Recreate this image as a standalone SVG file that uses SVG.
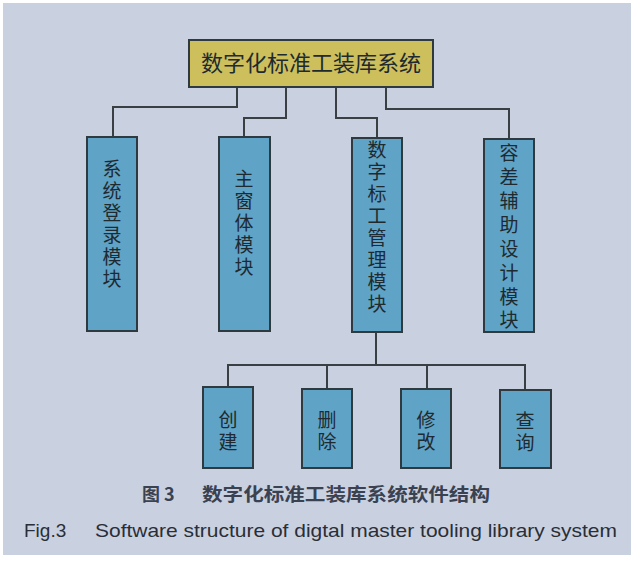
<svg xmlns="http://www.w3.org/2000/svg" width="634" height="561" viewBox="0 0 634 561">
<style>
.bg{fill:#c9d1e1}
.box{fill:#5fa3c6;stroke:#2f3a40;stroke-width:2}
.top{fill:#cdbf5c;stroke:#2f3a40;stroke-width:2}
.lbl{font-family:"Noto Sans CJK SC",sans-serif;font-size:19px;fill:#1e2a30;text-anchor:middle}
.tl{font-family:"Noto Sans CJK SC",sans-serif;font-size:22px;fill:#1e2a30;text-anchor:middle}
.conn{fill:none;stroke:#3a3f44;stroke-width:2}
.cap1{font-family:"Noto Sans CJK SC",sans-serif;font-size:18px;font-weight:bold;fill:#3a4252}
.cap2{font-family:"Liberation Sans",Arial,sans-serif;font-size:19px;fill:#2a2e36}
</style>
<rect x="0" y="0" width="634" height="561" fill="#ffffff"/>
<rect class="bg" x="3" y="3" width="628" height="552"/>
<g id="connectors">
<path class="conn" d="M237 87 V107 H113 V137"/>
<path class="conn" d="M286 87 V118 H244 V137"/>
<path class="conn" d="M336 87 V118 H377 V138"/>
<path class="conn" d="M386 87 V109 H509 V139"/>
<path class="conn" d="M376 332 V365"/>
<path class="conn" d="M228 387 V365 H525 V390"/>
<path class="conn" d="M327 365 V389"/>
<path class="conn" d="M427 365 V389"/>
</g>
<g id="root">
<rect class="top" x="189" y="40" width="244" height="47"/>
<text class="tl" x="311" y="71">数字化标准工装库系统</text>
</g>
<g id="n1">
<rect class="box" x="87" y="137" width="50" height="194"/>
<text class="lbl"><tspan x="112" y="176">系</tspan><tspan x="112" y="198">统</tspan><tspan x="112" y="220">登</tspan><tspan x="112" y="242">录</tspan><tspan x="112" y="264">模</tspan><tspan x="112" y="286">块</tspan></text>
</g>
<g id="n2">
<rect class="box" x="219" y="137" width="51" height="194"/>
<text class="lbl"><tspan x="244" y="186">主</tspan><tspan x="244" y="208">窗</tspan><tspan x="244" y="230">体</tspan><tspan x="244" y="252">模</tspan><tspan x="244" y="274">块</tspan></text>
</g>
<g id="n3">
<rect class="box" x="352" y="138" width="50" height="194"/>
<text class="lbl"><tspan x="377" y="157">数</tspan><tspan x="377" y="179">字</tspan><tspan x="377" y="201">标</tspan><tspan x="377" y="223">工</tspan><tspan x="377" y="245">管</tspan><tspan x="377" y="267">理</tspan><tspan x="377" y="289">模</tspan><tspan x="377" y="311">块</tspan></text>
</g>
<g id="n4">
<rect class="box" x="484" y="139" width="50" height="193"/>
<text class="lbl"><tspan x="509" y="160">容</tspan><tspan x="509" y="184">差</tspan><tspan x="509" y="208">辅</tspan><tspan x="509" y="232">助</tspan><tspan x="509" y="256">设</tspan><tspan x="509" y="280">计</tspan><tspan x="509" y="304">模</tspan><tspan x="509" y="327">块</tspan></text>
</g>
<g id="c1">
<rect class="box" x="203" y="387" width="50" height="81"/>
<text class="lbl"><tspan x="228" y="427">创</tspan><tspan x="228" y="449">建</tspan></text>
</g>
<g id="c2">
<rect class="box" x="302" y="389" width="50" height="79"/>
<text class="lbl"><tspan x="327" y="427">删</tspan><tspan x="327" y="449">除</tspan></text>
</g>
<g id="c3">
<rect class="box" x="401" y="389" width="50" height="79"/>
<text class="lbl"><tspan x="426" y="427">修</tspan><tspan x="426" y="449">改</tspan></text>
</g>
<g id="c4">
<rect class="box" x="500" y="390" width="51" height="78"/>
<text class="lbl"><tspan x="525" y="428">查</tspan><tspan x="525" y="450">询</tspan></text>
</g>
<text class="cap1" x="142" y="501">图 3</text>
<text class="cap1" x="202" y="501" textLength="288" lengthAdjust="spacingAndGlyphs">数字化标准工装库系统软件结构</text>
<text class="cap2" x="24" y="537">Fig.3</text>
<text class="cap2" x="95" y="537" textLength="522" lengthAdjust="spacingAndGlyphs">Software structure of digtal master tooling library system</text>
</svg>
